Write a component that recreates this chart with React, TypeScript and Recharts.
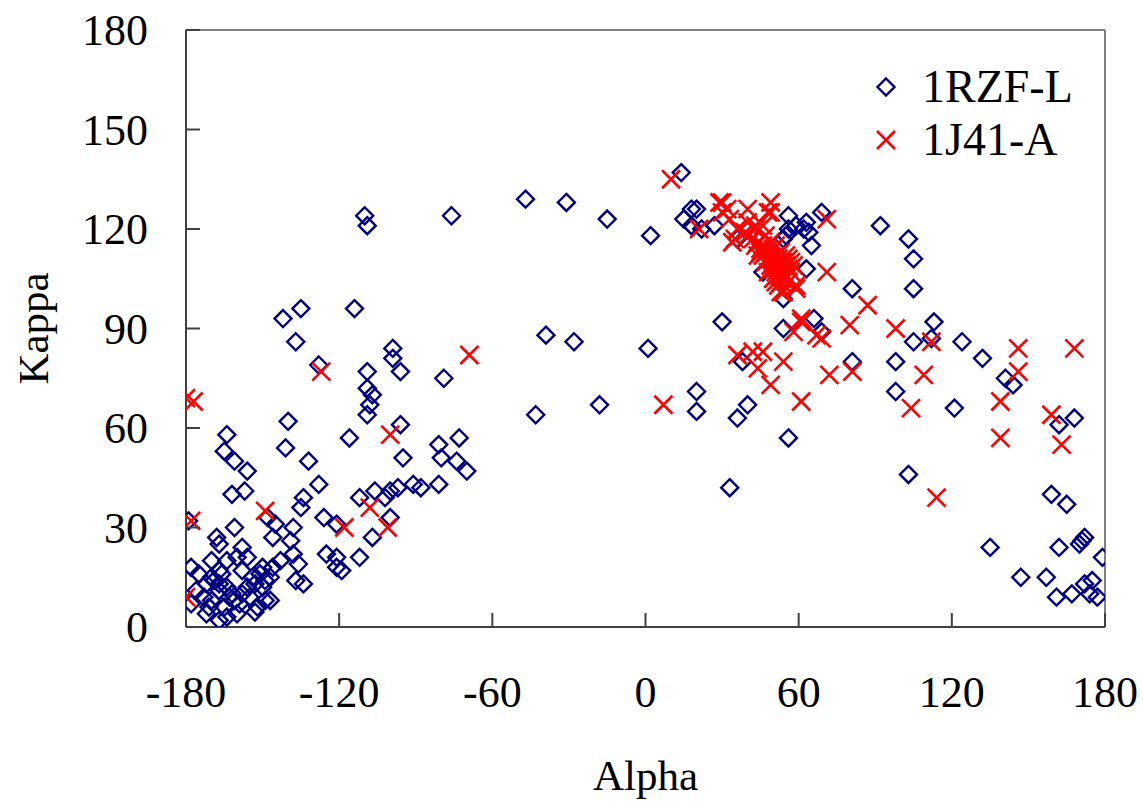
import React from 'react';
import { ScatterChart, Scatter, XAxis, YAxis, ReferenceLine } from 'recharts';

const xTicks = [-180, -120, -60, 0, 60, 120, 180];
const yTicks = [0, 30, 60, 90, 120, 150, 180];
const seriesNames = ['1RZF-L', '1J41-A'];

const blueAlpha = [
  -179, -178, -175, -178, -176, -172, -170, -167, -167, -164, -162, -161, -165, -167, -164, -160, -159, -158, -156, -154,
  -167, -170, -172, -170, -164, -160, -156, -150, -146, -147, -151, -150, -153, -147, -153, -152, -164, -165, -161, -156,
  -162, -157, -161, -168, -167, -158, -146, -145, -148, -140, -141, -132, -128, -116, -134, -135, -126, -138, -139, -138,
  -136, -137, -134, -112, -121, -107, -112, -125, -121, -121, -119, -142, -135, -114, -137, -128, -99, -99, -96, -109,
  -109, -107, -108, -109, -79, -96, -95, -81, -73, -80, -74, -70, -81, -106, -102, -100, -97, -91, -88, -100,
  -110, -109, -76, -47, -31, -15, 2, 14, 15, 18, -39, -28, 1, -18, -43, 20, 20, 18, 22, 27,
  56, 59, 63, 64, 69, 65, 63, 56, 54, 54, 55, 81, 30, 54, 66, 69, 46, 38, 40, 36,
  56, 33, 81, 92, 103, 105, 105, 113, 112, 105, 98, 98, 124, 132, 141, 144, 121, 103, 159, 165,
  162, 168, 135, 162, 170, 172, 171, 179, 147, 157, 161, 167, 172, 175, 174, 177, 55, 36, 20, 62,
  -163, -171, -155, -149, -143, -169, -173, -158, -149, -166,
];
const blueKappa = [
  32, 18, 16, 7, 11, 4, 8, 11, 13, 12, 10, 8, 6, 2, 3, 4, 7, 10, 12, 15,
  17, 15, 13, 20, 20, 21, 21, 18, 18, 15, 16, 12, 13, 8, 4.5, 6, 58, 53, 50, 47,
  40, 41, 30, 27, 25, 24, 27, 31, 33, 62, 54, 50, 43, 57, 39, 36, 33, 30, 26, 22,
  19, 14, 13, 39, 31, 27, 21, 22, 21, 18, 17, 93, 96, 96, 86, 79, 84, 81, 77, 77,
  72, 70, 67, 64, 75, 61, 51, 55, 57, 51, 50, 47, 43, 41, 39, 41, 42, 43, 42, 33,
  124, 121, 124, 129, 128, 123, 118, 137, 123, 126, 88, 86, 84, 67, 64, 71, 65, 121, 120, 121,
  124, 121, 122, 119, 125, 115, 108, 120, 117, 99, 102, 102, 92, 90, 93, 89, 107, 80, 67, 63,
  57, 42, 80, 121, 117, 111, 102, 92, 87, 86, 80, 71, 86, 81, 75, 73, 66, 46, 40, 37,
  61, 63, 24, 24, 25, 27, 26, 21, 15, 15, 9, 10, 13, 14, 10, 9, 118, 117, 126, 120,
  9, 6, 9, 14, 20, 14, 9, 17, 8, 16,
];

const redAlpha = [
  -180, -177, -178, -180, -149, -118, -108, -101, -127, -69, -100, 7, 10, 21, 29, 32, 33, 36, 35, 40,
  40, 43, 49, 49, 46, 40, 45, 71, 71, 87, 80, 51, 54, 59, 61, 58, 69, 36, 42, 46,
  44, 54, 49, 61, 72, 81, 67, 61, 98, 112, 109, 104, 114, 146, 146, 139, 139, 159, 163, 168,
  42, 43, 44, 45, 46, 46, 47, 47, 48, 48, 49, 49, 50, 50, 50, 51, 51, 51, 52, 52,
  52, 53, 53, 53, 54, 54, 54, 55, 55, 56, 56, 57, 57, 52, 50, 48, 55, 53, 49, 47,
  44, 56, 58, 51, 30, 30, 48, 39, 34, 43, 55, 59, 53,
];
const redKappa = [
  69, 68, 32, 9, 35, 30, 36, 30, 77, 82, 58, 67, 135, 120, 128, 126, 123, 120, 117, 126,
  122, 121, 128, 125, 121, 118, 114, 123, 107, 97, 91, 104, 101, 102, 93, 89, 87, 82, 83, 83,
  78, 80, 73, 68, 76, 77, 88, 92, 90, 86, 76, 66, 39, 84, 77, 68, 57, 64, 55, 84,
  117, 115, 116, 113, 112, 115, 110, 113, 111, 114, 109, 112, 108, 111, 114, 107, 110, 112, 106, 109,
  111, 108, 110, 113, 105, 107, 110, 106, 109, 108, 111, 107, 110, 103, 105, 107, 112, 104, 116, 118,
  112, 104, 109, 115, 128, 125, 125, 119, 116, 120, 105, 103, 101,
];

const blueData = blueAlpha.map((a, i) => ({ alpha: a, kappa: blueKappa[i] }));
const redData = redAlpha.map((a, i) => ({ alpha: a, kappa: redKappa[i] }));

const FONT = '"Liberation Serif", "Times New Roman", serif';
const BLUE = '#000080';
const RED = '#FF0000';
const AXIS = '#404040';

const Diamond = (props: any) => {
  const { cx, cy } = props;
  if (cx == null || cy == null) return null;
  const r = 8.5;
  return (
    <path
      d={`M${cx},${cy - r}L${cx + r},${cy}L${cx},${cy + r}L${cx - r},${cy}Z`}
      fill="none"
      stroke={BLUE}
      strokeWidth={2.4}
    />
  );
};

const Cross = (props: any) => {
  const { cx, cy } = props;
  if (cx == null || cy == null) return null;
  const r = 9;
  return (
    <path
      d={`M${cx - r},${cy - r}L${cx + r},${cy + r}M${cx - r},${cy + r}L${cx + r},${cy - r}`}
      fill="none"
      stroke={RED}
      strokeWidth={2.6}
    />
  );
};

const XTick = (props: any) => {
  const { x, y, payload } = props;
  return (
    <g>
      <line x1={x} y1={y} x2={x} y2={y - 14} stroke={AXIS} strokeWidth={2} />
      <text x={x} y={y + 80} textAnchor="middle" fontFamily={FONT} fontSize={44} fill="#000">
        {payload.value}
      </text>
    </g>
  );
};

const YTick = (props: any) => {
  const { x, y, payload } = props;
  return (
    <g>
      <line x1={x} y1={y} x2={x + 14} y2={y} stroke={AXIS} strokeWidth={2} />
      <text x={x - 38} y={y + 15} textAnchor="end" fontFamily={FONT} fontSize={44} fill="#000">
        {payload.value}
      </text>
    </g>
  );
};

const LegendBox = () => (
  <div
    style={{
      position: 'absolute',
      left: 871,
      top: 60,
      fontFamily: FONT,
      fontSize: 46,
      color: '#000',
      lineHeight: '53px',
    }}
  >
    <div style={{ display: 'flex', alignItems: 'center' }}>
      <svg width={30} height={30} style={{ marginRight: 21 }}>
        <Diamond cx={15} cy={15} />
      </svg>
      <span>{seriesNames[0]}</span>
    </div>
    <div style={{ display: 'flex', alignItems: 'center' }}>
      <svg width={30} height={30} style={{ marginRight: 21 }}>
        <Cross cx={15} cy={15} />
      </svg>
      <span>{seriesNames[1]}</span>
    </div>
  </div>
);

export default function App() {
  return (
    <div style={{ position: 'absolute', left: 0, top: 0, width: 1143, height: 801, background: '#fff' }}>
      <ScatterChart width={1143} height={801} margin={{ top: 30, right: 38, bottom: 0, left: 0 }}>
        <XAxis
          type="number"
          dataKey="alpha"
          domain={[-180, 180]}
          ticks={xTicks}
          allowDataOverflow
          height={174}
          tickSize={0}
          tickMargin={0}
          tickLine={false}
          tick={<XTick />}
          stroke={AXIS}
          strokeWidth={2}
          interval={0}
          label={(p: any) => {
            const vb = p.viewBox;
            return (
              <text x={vb.x + vb.width / 2} y={vb.y + 163} textAnchor="middle" fontFamily={FONT} fontSize={43} fill="#000">
                Alpha
              </text>
            );
          }}
        />
        <YAxis
          type="number"
          dataKey="kappa"
          domain={[0, 180]}
          ticks={yTicks}
          allowDataOverflow
          width={186}
          tickSize={0}
          tickMargin={0}
          tickLine={false}
          tick={<YTick />}
          stroke={AXIS}
          strokeWidth={2}
          interval={0}
          label={(p: any) => {
            const vb = p.viewBox;
            const cx = 48;
            const cy = vb.y + vb.height / 2;
            return (
              <text x={cx} y={cy} textAnchor="middle" fontFamily={FONT} fontSize={43} fill="#000" transform={`rotate(-90, ${cx}, ${cy})`}>
                Kappa
              </text>
            );
          }}
        />
        <ReferenceLine y={180} stroke="#808080" strokeWidth={2} />
        <ReferenceLine x={180} stroke="#808080" strokeWidth={2} />
        <Scatter name={seriesNames[0]} data={blueData} shape={<Diamond />} isAnimationActive={false} />
        <Scatter name={seriesNames[1]} data={redData} shape={<Cross />} isAnimationActive={false} />
      </ScatterChart>
      <LegendBox />
    </div>
  );
}
